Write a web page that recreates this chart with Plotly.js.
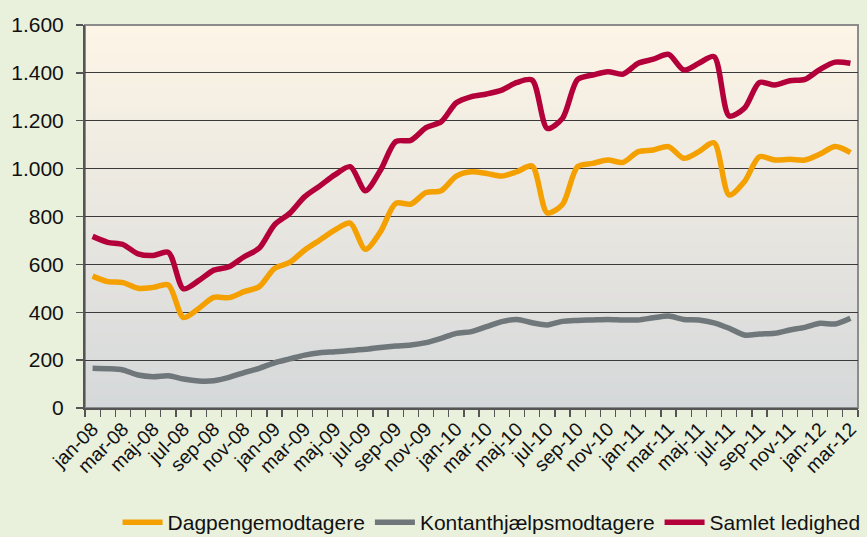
<!DOCTYPE html>
<html>
<head>
<meta charset="utf-8">
<script src="https://cdn.plot.ly/plotly-3.0.1.min.js"></script>
<style>
html,body{margin:0;padding:0;background:#E9F0DC;}
#chart{width:867px;height:537px;}
</style>
</head>
<body>
<div id="chart"></div>
<script>
const months = ['jan-08','feb-08','mar-08','apr-08','maj-08','jun-08','jul-08','aug-08','sep-08','okt-08','nov-08','dec-08',
'jan-09','feb-09','mar-09','apr-09','maj-09','jun-09','jul-09','aug-09','sep-09','okt-09','nov-09','dec-09',
'jan-10','feb-10','mar-10','apr-10','maj-10','jun-10','jul-10','aug-10','sep-10','okt-10','nov-10','dec-10',
'jan-11','feb-11','mar-11','apr-11','maj-11','jun-11','jul-11','aug-11','sep-11','okt-11','nov-11','dec-11',
'jan-12','feb-12','mar-12'];

const dagpenge = [551,528,524,500,504,514,378,416,462,461,486,507,
583,608,660,702,744,772,663,737,855,852,900,908,
969,987,980,969,987,1011,815,850,1008,1022,1036,1026,
1071,1078,1092,1043,1071,1108,890,945,1050,1036,1039,1036,
1061,1092,1067];

const kontant = [166,164,159,138,131,135,121,113,114,128,148,166,
189,205,221,231,235,240,245,253,259,263,273,291,
312,319,340,361,370,356,347,362,366,368,370,368,
368,377,384,370,368,356,333,305,309,312,326,337,
354,351,375];

const samlet = [717,692,683,644,637,650,498,532,576,590,632,668,
765,813,883,928,975,1008,908,994,1113,1118,1171,1196,
1275,1301,1312,1328,1360,1370,1168,1210,1372,1391,1405,1395,
1440,1457,1477,1412,1440,1468,1220,1252,1360,1349,1367,1373,
1415,1445,1440];

const yTicks = [0,200,400,600,800,1000,1200,1400,1600];

(function(){
const idx = months.map((m,i)=>i);
const tickIdx = idx.filter(i => i % 2 === 0);
const tickText = tickIdx.map(i => months[i]);

function tr(name, y, color){
  return {x: idx, y: y, name: name, type:'scatter', mode:'lines',
    line:{color:color, width:5.5, shape:'spline', smoothing:0.8},
    hoverinfo:'skip'};
}

const data = [
  tr('Dagpengemodtagere', dagpenge, '#F4A000'),
  tr('Kontanthjælpsmodtagere', kontant, '#6F777B'),
  tr('Samlet ledighed', samlet, '#B4003A')
];

const shapes = [];
const N = 60;
const cTop = [253,245,230], cBot = [213,216,218];
for (let k=0;k<N;k++){
  const t = (k+0.5)/N;
  const c = cBot.map((b,j)=>Math.round(b + (cTop[j]-b)*t));
  shapes.push({type:'rect', xref:'paper', yref:'paper', x0:0, x1:1, y0:k/N, y1:(k+1)/N+0.002,
    fillcolor:'rgb('+c.join(',')+')', line:{width:0}, layer:'below'});
}
shapes.push({type:'rect', xref:'paper', yref:'paper', x0:0, x1:1, y0:0, y1:1,
  fillcolor:'rgba(0,0,0,0)', line:{color:'#8C8C8C', width:2}, layer:'below'});

const font = 'Liberation Sans, Arial, sans-serif';

const layout = {
  width:867, height:537,
  paper_bgcolor:'#E9F0DC',
  plot_bgcolor:'rgba(0,0,0,0)',
  margin:{l:85, r:9, t:25, b:129, autoexpand:false},
  showlegend:true,
  separators:',.',
  xaxis:{
    range:[-0.5, months.length-0.5],
    tickmode:'array', tickvals:tickIdx, ticktext:tickText,
    tickangle:-45, ticks:'', showgrid:false, zeroline:false,
    tickfont:{family:font, size:19.5, color:'#111'},
    showline:true, linecolor:'#555', linewidth:2,
    minor:{tick0:-0.5, dtick:1, ticks:'outside', ticklen:7, tickcolor:'#555', tickwidth:1.3, showgrid:false},
    automargin:false, fixedrange:true
  },
  yaxis:{
    range:[0,1600], tickmode:'array', tickvals:yTicks, tickformat:',d',
    showgrid:true, gridcolor:'#3a3a3a', gridwidth:1,
    zeroline:false, showline:true, linecolor:'#555', linewidth:2,
    ticks:'outside', ticklen:7, tickcolor:'#555', tickwidth:1.3,
    ticklabelstandoff:8,
    tickfont:{family:font, size:21, color:'#111'},
    automargin:false, fixedrange:true
  },
  legend:{orientation:'h', xref:'container', yref:'container', x:0.567, xanchor:'center', y:0.027, yanchor:'middle',
    font:{family:font, size:21, color:'#111'}, bgcolor:'rgba(0,0,0,0)',
    itemwidth:40, tracegroupgap:0},
  shapes:shapes
};

Plotly.newPlot('chart', data, layout, {displayModeBar:false, staticPlot:true});
})();
</script>
</body>
</html>
